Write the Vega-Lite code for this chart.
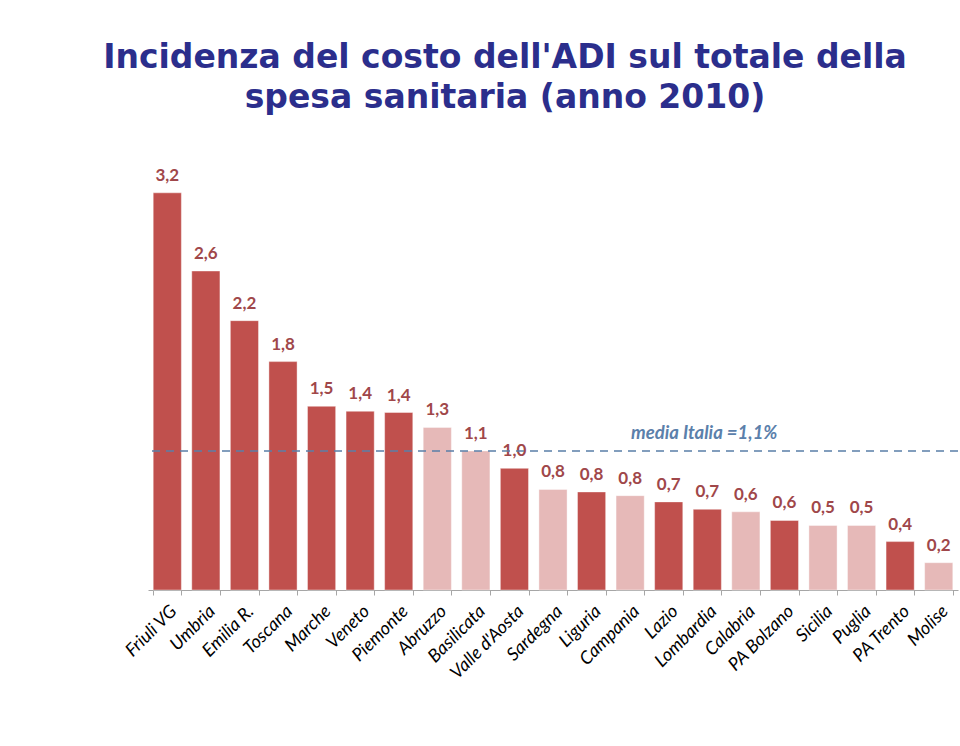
{
  "$schema": "https://vega.github.io/schema/vega-lite/v6.json",
  "width": 810,
  "height": 422,
  "autosize": {"type": "none"},
  "padding": {"left": 148, "top": 168, "right": 2, "bottom": 156},
  "background": "white",
  "config": {"view": {"stroke": null}},
  "title": {
    "text": ["Incidenza del costo dell'ADI sul totale della", "spesa sanitaria (anno 2010)"],
    "font": "DejaVu Sans",
    "fontSize": 33,
    "fontWeight": "bold",
    "color": "#2b2e8c",
    "lineHeight": 40,
    "anchor": "middle",
    "dx": -48,
    "offset": 52
  },
  "datasets": {
    "regions": [
      {"regione": "Friuli VG", "valore": 3.2, "etichetta": "3,2", "gruppo": "A"},
      {"regione": "Umbria", "valore": 2.57, "etichetta": "2,6", "gruppo": "A"},
      {"regione": "Emilia R.", "valore": 2.17, "etichetta": "2,2", "gruppo": "A"},
      {"regione": "Toscana", "valore": 1.84, "etichetta": "1,8", "gruppo": "A"},
      {"regione": "Marche", "valore": 1.48, "etichetta": "1,5", "gruppo": "A"},
      {"regione": "Veneto", "valore": 1.44, "etichetta": "1,4", "gruppo": "A"},
      {"regione": "Piemonte", "valore": 1.43, "etichetta": "1,4", "gruppo": "A"},
      {"regione": "Abruzzo", "valore": 1.31, "etichetta": "1,3", "gruppo": "B"},
      {"regione": "Basilicata", "valore": 1.12, "etichetta": "1,1", "gruppo": "B"},
      {"regione": "Valle d'Aosta", "valore": 0.98, "etichetta": "1,0", "gruppo": "A"},
      {"regione": "Sardegna", "valore": 0.81, "etichetta": "0,8", "gruppo": "B"},
      {"regione": "Liguria", "valore": 0.79, "etichetta": "0,8", "gruppo": "A"},
      {"regione": "Campania", "valore": 0.76, "etichetta": "0,8", "gruppo": "B"},
      {"regione": "Lazio", "valore": 0.71, "etichetta": "0,7", "gruppo": "A"},
      {"regione": "Lombardia", "valore": 0.65, "etichetta": "0,7", "gruppo": "A"},
      {"regione": "Calabria", "valore": 0.63, "etichetta": "0,6", "gruppo": "B"},
      {"regione": "PA Bolzano", "valore": 0.56, "etichetta": "0,6", "gruppo": "A"},
      {"regione": "Sicilia", "valore": 0.52, "etichetta": "0,5", "gruppo": "B"},
      {"regione": "Puglia", "valore": 0.52, "etichetta": "0,5", "gruppo": "B"},
      {"regione": "PA Trento", "valore": 0.39, "etichetta": "0,4", "gruppo": "A"},
      {"regione": "Molise", "valore": 0.22, "etichetta": "0,2", "gruppo": "B"}
    ],
    "media": [{"valore": 1.12, "regione": "Lombardia", "testo": "media Italia =1,1%"}]
  },
  "layer": [
    {
      "data": {"name": "regions"},
      "mark": {"type": "bar", "stroke": "#ffffff", "strokeOpacity": 0.4, "strokeWidth": 1},
      "encoding": {
        "x": {
          "field": "regione", "type": "nominal", "sort": null,
          "scale": {"paddingInner": 0.27, "paddingOuter": 0.135},
          "axis": {
            "title": null,
            "labelAngle": -45,
            "labelFont": "Lato",
            "labelFontStyle": "italic",
            "labelFontSize": 18,
            "labelColor": "#000000",
            "labelPadding": 7,
            "domainColor": "#a6a6a6",
            "tickColor": "#a6a6a6",
            "tickBand": "extent",
            "tickSize": 5
          }
        },
        "y": {
          "field": "valore", "type": "quantitative",
          "scale": {"domain": [0, 3.4], "nice": false},
          "axis": null
        },
        "color": {
          "field": "gruppo", "type": "nominal",
          "scale": {"domain": ["A", "B"], "range": ["#c0504d", "#e6b9b8"]},
          "legend": null
        }
      }
    },
    {
      "data": {"name": "regions"},
      "mark": {"type": "text", "font": "Lato", "fontWeight": "bold", "fontSize": 17, "color": "#a0474a", "baseline": "bottom", "dy": -8},
      "encoding": {
        "x": {"field": "regione", "type": "nominal", "sort": null},
        "y": {"field": "valore", "type": "quantitative"},
        "text": {"field": "etichetta"}
      }
    },
    {
      "data": {"name": "media"},
      "mark": {"type": "rule", "color": "#5a7fa8", "strokeDash": [8, 6], "strokeWidth": 1.6},
      "encoding": {
        "y": {"field": "valore", "type": "quantitative"}
      }
    },
    {
      "data": {"name": "media"},
      "mark": {"type": "text", "font": "Lato", "fontStyle": "italic", "fontWeight": "bold", "fontSize": 18.5, "color": "#5b80ab", "baseline": "bottom", "dy": -8, "dx": -3},
      "encoding": {
        "x": {"field": "regione", "type": "nominal", "sort": null},
        "y": {"field": "valore", "type": "quantitative"},
        "text": {"field": "testo"}
      }
    }
  ]
}
